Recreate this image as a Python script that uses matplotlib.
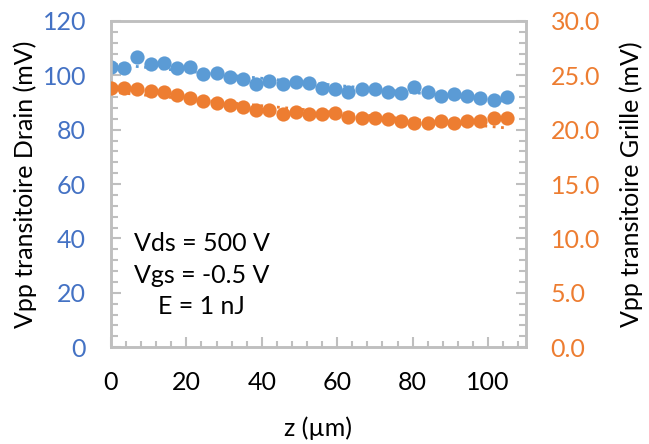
import numpy as np
import matplotlib
matplotlib.use("Agg")
import matplotlib.pyplot as plt
from matplotlib.ticker import MultipleLocator

# data
z = [0, 3.5, 7, 10.5, 14, 17.5, 21, 24.5, 28, 31.5, 35, 38.5, 42, 45.5, 49, 52.5,
     56, 59.5, 63, 66.5, 70, 73.5, 77, 80.5, 84, 87.5, 91, 94.5, 98, 101.5, 105]
vpp_drain = [102.9, 102.6, 106.6, 104.0, 104.4, 102.6, 103.0, 100.5, 100.7, 99.5, 98.6,
             96.8, 97.9, 96.8, 97.4, 97.3, 95.4, 94.8, 94.0, 95.1, 94.8, 93.7, 93.3,
             95.6, 93.7, 92.5, 93.1, 92.5, 91.8, 90.9, 92.1]
vpp_grille = [23.8, 23.8, 23.73, 23.55, 23.43, 23.2, 22.87, 22.66, 22.45, 22.22, 22.11,
              21.8, 21.8, 21.43, 21.65, 21.43, 21.43, 21.49, 21.12, 21.03, 21.03, 20.94,
              20.82, 20.57, 20.57, 20.82, 20.57, 20.82, 20.82, 21.03, 21.03]

blue = "#5B9BD5"
blue_txt = "#4472C4"
orange = "#ED7D31"
grey = "#BFBFBF"
fs = 18

plt.rcParams["font.family"] = ["Lato", "DejaVu Sans"]

fig = plt.figure(figsize=(6.49, 4.44), dpi=100)
ax = fig.add_axes([0.171, 0.218, 0.639, 0.735])
ax2 = ax.twinx()

ax.scatter(z, vpp_drain, s=105, color=blue, zorder=3, linewidths=0)
ax2.scatter(z, vpp_grille, s=105, color=orange, zorder=3, linewidths=0)

# linear trendlines (dotted)
zz = np.array([min(z), max(z)])
p1 = np.polyfit(z, vpp_drain, 1)
p2 = np.polyfit(z, vpp_grille, 1)
ax.plot(zz, np.polyval(p1, zz), color=blue, linestyle=(0, (1, 2)), linewidth=2, zorder=2)
ax2.plot(zz, np.polyval(p2, zz), color=orange, linestyle=(0, (1, 2)), linewidth=2, zorder=2)

ax.set_xlim(0, 110)
ax.set_ylim(0, 120)
ax2.set_ylim(0, 30)

ax.set_xticks([0, 20, 40, 60, 80, 100])
ax.xaxis.set_minor_locator(MultipleLocator(4))
ax.yaxis.set_major_locator(MultipleLocator(20))
ax.yaxis.set_minor_locator(MultipleLocator(4))
ax2.yaxis.set_major_locator(MultipleLocator(5))
ax2.yaxis.set_minor_locator(MultipleLocator(1))
ax2.set_yticklabels([f"{v:.1f}" for v in ax2.get_yticks()])

for a in (ax, ax2):
    for sp in a.spines.values():
        sp.set_color(grey)
        sp.set_linewidth(1.8)

ax.tick_params(axis="x", which="major", direction="in", length=7, width=1.5, color=grey,
               labelsize=fs, pad=17)
ax.tick_params(axis="x", which="minor", direction="in", length=4, width=1.5, color=grey)
ax.tick_params(axis="y", which="major", direction="in", length=7, width=1.5, color=grey,
               labelsize=fs, labelcolor=blue_txt, pad=18)
ax.tick_params(axis="y", which="minor", direction="in", length=5, width=1.5, color=grey)
ax2.tick_params(axis="y", which="major", direction="in", length=7, width=1.5, color=grey,
                labelsize=fs, labelcolor=orange, pad=18)
ax2.tick_params(axis="y", which="minor", direction="in", length=5, width=1.5, color=grey)

ax.set_xlabel("z (µm)", fontsize=fs, labelpad=16)
ax.set_ylabel("Vpp transitoire Drain (mV)", fontsize=fs, labelpad=4)
ax2.set_ylabel("Vpp transitoire Grille (mV)", fontsize=fs, labelpad=14)

ax.text(24, 26.5, "Vds = 500 V\nVgs = -0.5 V\nE = 1 nJ", fontsize=fs, ha="center",
        va="center", linespacing=1.45)

plt.savefig("out.png", dpi=100)
plt.close()
